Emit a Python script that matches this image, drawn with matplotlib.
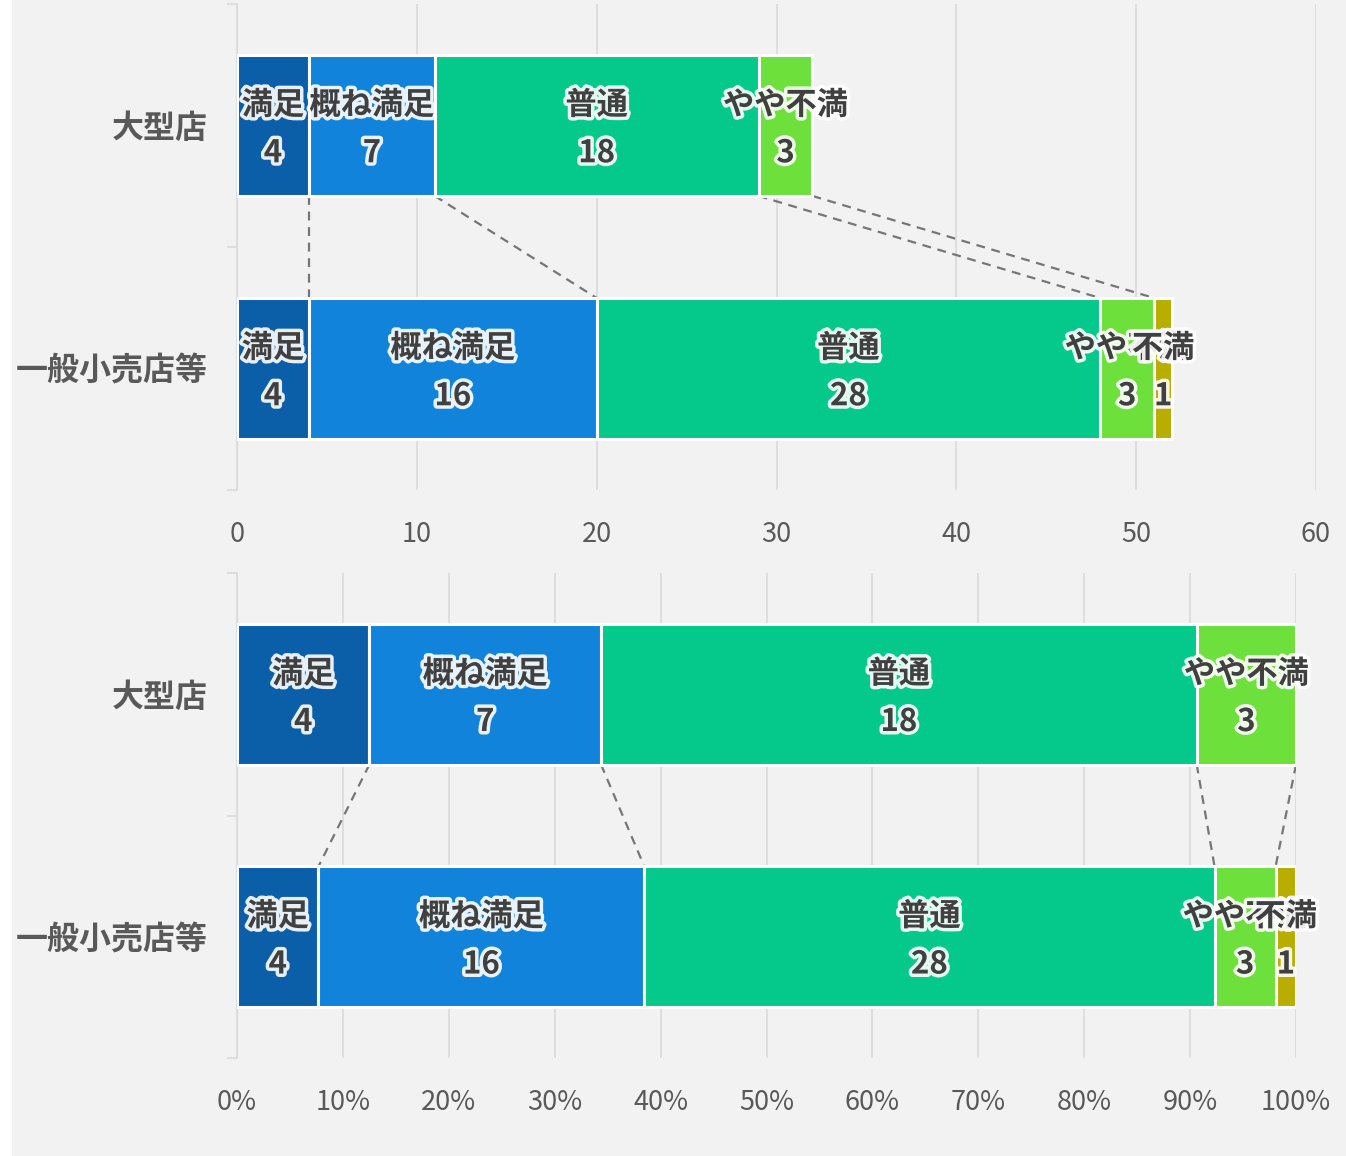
import matplotlib
matplotlib.use('Agg')
import matplotlib.pyplot as plt
import matplotlib.patheffects as pe
from matplotlib.patches import Rectangle
from matplotlib.ticker import FixedLocator

plt.rcParams['font.family'] = ['Noto Sans CJK JP', 'DejaVu Sans']

# data
categories = ['大型店', '一般小売店等']
series_names = ['満足', '概ね満足', '普通', 'やや不満', '不満']
large_store = [4, 7, 18, 3, 0]
general_retail = [4, 16, 28, 3, 1]
count_ticks = [0, 10, 20, 30, 40, 50, 60]
pct_ticks = [0, 10, 20, 30, 40, 50, 60, 70, 80, 90, 100]
pct_tick_labels = ['0%', '10%', '20%', '30%', '40%', '50%', '60%', '70%', '80%', '90%', '100%']

colors = ['#0b5ea8', '#1283da', '#04c98a', '#6ee03b', '#b8ad00']
W, H = 1346, 1156
BAR_H = 0.58
GRID = '#d9d9d9'
TXT = '#595959'
LBL = '#404040'

fig = plt.figure(figsize=(W / 100, H / 100), dpi=100)
fig.patch.set_facecolor('white')
fig.patches.append(Rectangle((12 / W, 0), 1, 1, transform=fig.transFigure,
                             facecolor='#f2f2f2', edgecolor='none', zorder=-10))


def draw(ax, rows, xmax, ticks, ticklabels, percent):
    data = []
    for r in rows:
        tot = sum(r)
        data.append([v / tot * 100 for v in r] if percent else list(r))

    ax.set_facecolor('none')
    ends = []
    for i, (vals, raw) in enumerate(zip(data, rows)):
        left = 0
        row_ends = []
        for k, (v, rv) in enumerate(zip(vals, raw)):
            if rv > 0:
                ax.barh(i, v, left=left, height=BAR_H, color=colors[k],
                        edgecolor='white', linewidth=2.2, zorder=3)
                cx = left + v / 2
                for txt, off in ((series_names[k], 14.5), (str(rv), -20)):
                    ax.annotate(txt, (cx, i), xytext=(0, off), textcoords='offset points',
                                ha='center', va='center', fontsize=22.5, fontweight='bold',
                                color=LBL, zorder=5,
                                path_effects=[pe.withStroke(linewidth=5, foreground='white', alpha=0.9)])
            left += v
            row_ends.append(left)
        ends.append(row_ends)

    # series lines
    for k in range(len(series_names)):
        if rows[0][k] > 0 and rows[1][k] > 0:
            ax.plot([ends[0][k], ends[1][k]], [BAR_H / 2, 1 - BAR_H / 2],
                    color='#767676', lw=1.6, ls=(0, (4, 3)), zorder=2)

    ax.set_ylim(1.5, -0.5)
    ax.set_xlim(0, xmax)
    ax.set_yticks([0, 1])
    ax.set_yticklabels(categories, fontsize=23, fontweight='bold', color=TXT)
    ax.yaxis.set_minor_locator(FixedLocator([-0.5, 0.5, 1.5]))
    ax.tick_params(axis='y', which='major', length=0, pad=21)
    ax.tick_params(axis='y', which='minor', length=7, width=1.1, color=GRID)
    ax.set_xticks(ticks)
    ax.set_xticklabels(ticklabels, fontsize=19.5, color=TXT)
    ax.tick_params(axis='x', length=0, pad=22)
    ax.grid(axis='x', color=GRID, lw=1.1, zorder=0)
    ax.set_axisbelow(True)
    for s in ('top', 'right', 'bottom'):
        ax.spines[s].set_visible(False)
    ax.spines['left'].set_color(GRID)
    ax.spines['left'].set_linewidth(1.1)


ax1 = fig.add_axes([237 / W, 1 - 490 / H, (1316 - 237) / W, 486 / H])
draw(ax1, [large_store, general_retail], 60, count_ticks, [str(t) for t in count_ticks], False)

ax2 = fig.add_axes([237 / W, 1 - 1058 / H, (1296 - 237) / W, 485 / H])
draw(ax2, [large_store, general_retail], 100, pct_ticks, pct_tick_labels, True)

fig.savefig('out.png', dpi=100, facecolor=fig.get_facecolor())
